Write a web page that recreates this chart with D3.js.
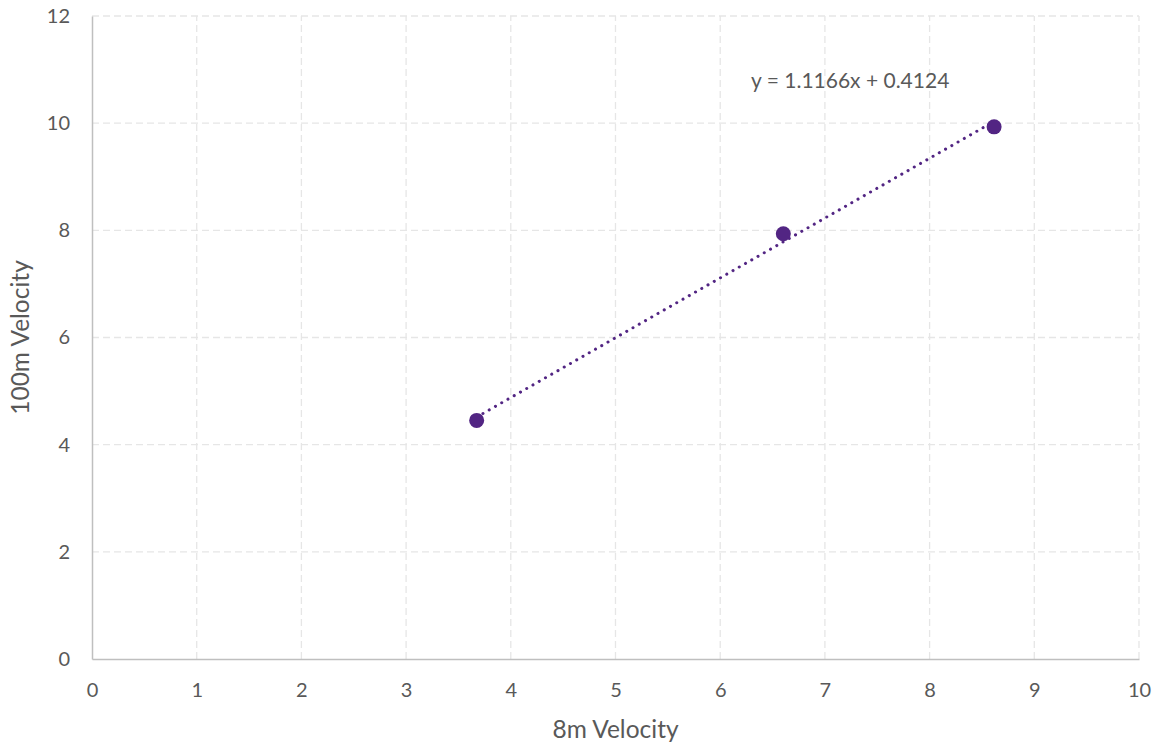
<!DOCTYPE html>
<html>
<head>
<meta charset="utf-8">
<script src="https://cdn.jsdelivr.net/npm/d3@7"></script>
<style>
  html, body { margin: 0; padding: 0; background: #fff; }
  text { font-family: Lato, "Open Sans", "Liberation Sans", sans-serif; fill: #595959; }
</style>
</head>
<body>
<svg id="chart" width="1158" height="744"></svg>
<script>
// 8m vs 100m velocity samples
const xVals = [3.674, 6.603, 8.616];
const yVals = [4.453, 7.937, 9.931];
const xTicks = [0, 1, 2, 3, 4, 5, 6, 7, 8, 9, 10];
const yTicks = [0, 2, 4, 6, 8, 10, 12];
const slope = 1.1166;
const intercept = 0.4124;
const equationLabel = "y = 1.1166x + 0.4124";

const svg = d3.select("#chart");
const margin = { left: 92, right: 19, top: 16, bottom: 85 };
const W = 1158, H = 744;

const x = d3.scaleLinear().domain([0, 10]).range([margin.left, W - margin.right]);
const y = d3.scaleLinear().domain([0, 12]).range([H - margin.bottom, margin.top]);

const purple = "#522583";

// dashed gridlines
svg.append("g").selectAll("line").data(yTicks.filter(d => d > 0)).join("line")
  .attr("x1", x(0)).attr("x2", x(10))
  .attr("y1", d => y(d)).attr("y2", d => y(d))
  .attr("stroke", "#e6e6e6").attr("stroke-width", 1.3).attr("stroke-dasharray", "7,4");
svg.append("g").selectAll("line").data(xTicks.filter(d => d > 0)).join("line")
  .attr("x1", d => x(d)).attr("x2", d => x(d))
  .attr("y1", y(0)).attr("y2", y(12))
  .attr("stroke", "#e6e6e6").attr("stroke-width", 1.3).attr("stroke-dasharray", "7,4");

// axes
const xAxis = svg.append("g").attr("transform", `translate(0,${y(0)})`)
  .call(d3.axisBottom(x).tickValues(xTicks).tickSize(0).tickPadding(24).tickFormat(d3.format("d")));
const yAxis = svg.append("g").attr("transform", `translate(${x(0)},0)`)
  .call(d3.axisLeft(y).tickValues(yTicks).tickSize(0).tickPadding(22).tickFormat(d3.format("d")));
[xAxis, yAxis].forEach(g => {
  g.select(".domain").attr("stroke", "#bfbfbf").attr("stroke-width", 1.5);
  g.selectAll("text").style("font-size", "20px").style("fill", "#595959");
});

// axis titles
svg.append("text").attr("x", x(5)).attr("y", 738).attr("text-anchor", "middle")
  .style("font-size", "24.5px").text("8m Velocity");
svg.append("text").attr("transform", `translate(29,${y(6)}) rotate(-90)`)
  .attr("text-anchor", "middle").style("font-size", "24.5px").text("100m Velocity");

// linear trendline across the data range
const xMin = d3.min(xVals), xMax = d3.max(xVals);
svg.append("line")
  .attr("x1", x(xMin)).attr("y1", y(slope * xMin + intercept))
  .attr("x2", x(xMax)).attr("y2", y(slope * xMax + intercept))
  .attr("stroke", purple).attr("stroke-width", 3)
  .attr("stroke-linecap", "round").attr("stroke-dasharray", "0.1,7.1");

// points
svg.append("g").selectAll("circle").data(xVals.map((v, i) => [v, yVals[i]])).join("circle")
  .attr("cx", d => x(d[0])).attr("cy", d => y(d[1])).attr("r", 7.5)
  .attr("fill", purple);

// trendline equation
svg.append("text").attr("x", 751).attr("y", 88)
  .style("font-size", "21px").text(equationLabel);
</script>
</body>
</html>
